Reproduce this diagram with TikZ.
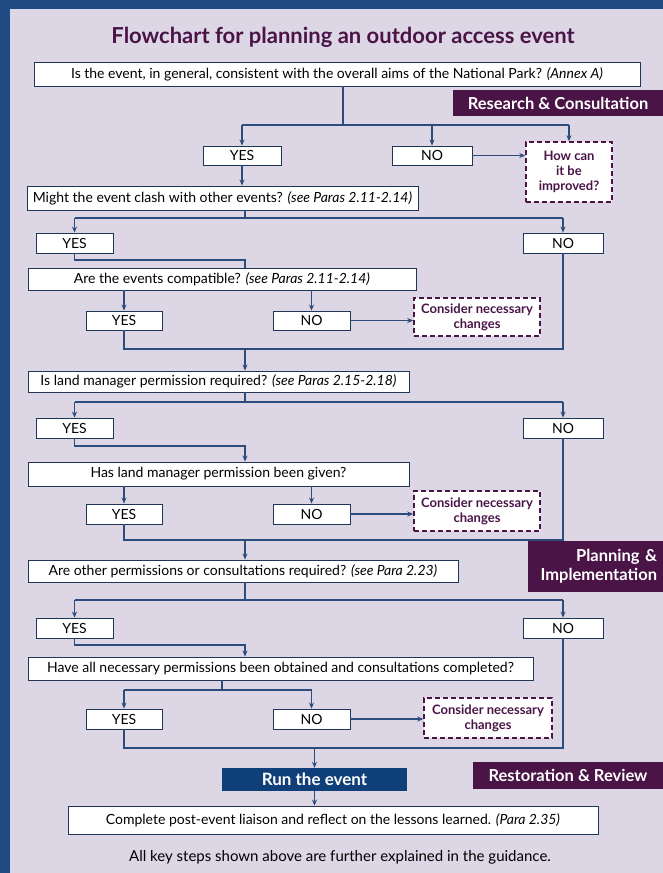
\documentclass[tikz,border=0pt]{standalone}
\usepackage{fontspec}
\setmainfont{Lato}
\usetikzlibrary{arrows.meta}
\definecolor{bgblue}{HTML}{1F4A82}
\definecolor{panel}{HTML}{DCD6E5}
\definecolor{darkpurple}{HTML}{4A1447}
\definecolor{lineblue}{HTML}{2C4C7C}
\definecolor{runblue}{HTML}{0F3F78}
\tikzset{
  ln/.style={draw=lineblue, line width=1.1pt},
  arr/.style={ln, -{Stealth[length=6pt,width=5pt]}},
  qbox/.style={draw=lineblue!70!black, fill=white, line width=0.9pt, inner sep=0pt, font=\fontsize{14}{16}\selectfont},
  ansbox/.style={qbox, minimum width=78pt, minimum height=19pt},
  dashbox/.style={draw=darkpurple, dashed, dash pattern=on 5pt off 3pt, line width=1.5pt, fill=white, text=darkpurple, align=center, inner sep=0pt, font=\bfseries\fontsize{13}{15}\selectfont},
  stagelabel/.style={fill=darkpurple, text=white, inner sep=0pt, font=\bfseries\fontsize{16.5}{19}\selectfont},
}
\begin{document}
\begin{tikzpicture}[x=1pt,y=-1pt]
\useasboundingbox (0,0) rectangle (663,873);
\fill[bgblue] (0,0) rectangle (663,873);
\fill[panel] (10,9) rectangle (663,873);

\node[text=darkpurple, font=\bfseries\fontsize{22}{25}\selectfont] (title) at (343,37) {Flowchart for planning an outdoor access event};

\node[qbox, minimum width=606pt, minimum height=24pt] (b1) at (337,74) {Is the event, in general, consistent with the overall aims of the National Park? \textit{(Annex A)}};
\node[stagelabel, minimum width=210pt, minimum height=26pt] (rc) at (558,103) {Research \& Consultation};

\node[ansbox] (y1) at (242,155.5) {YES};
\node[ansbox, minimum width=80pt] (n1) at (432,155.5) {NO};
\node[dashbox, minimum width=86pt, minimum height=60pt] (h1) at (569,172) {How can\\it be\\improved?};

\node[qbox, minimum width=391pt, minimum height=24pt] (b2) at (222.5,198) {Might the event clash with other events? \textit{(see Paras 2.11-2.14)}};
\node[ansbox, minimum width=77pt, minimum height=20pt] (y2) at (74.5,243) {YES};
\node[ansbox, minimum width=80pt, minimum height=20pt] (n2) at (563,243) {NO};

\node[qbox, minimum width=388pt, minimum height=22pt] (b3) at (222,279) {Are the events compatible? \textit{(see Paras 2.11-2.14)}};
\node[ansbox, minimum width=76pt] (y3) at (124,320.5) {YES};
\node[ansbox, minimum width=77pt] (n3) at (311.5,320.5) {NO};
\node[dashbox, minimum width=126pt, minimum height=38pt] (c3) at (477,317) {Consider necessary\\changes};

\node[qbox, minimum width=381pt, minimum height=21pt] (b4) at (218.5,381.5) {Is land manager permission required? \textit{(see Paras 2.15-2.18)}};
\node[ansbox, minimum width=77pt, minimum height=20pt] (y4) at (74.5,428) {YES};
\node[ansbox, minimum width=80pt, minimum height=20pt] (n4) at (563,428) {NO};

\node[qbox, minimum width=381pt, minimum height=24pt] (b5) at (218.5,474) {Has land manager permission been given?};
\node[ansbox, minimum width=76pt, minimum height=20pt] (y5) at (124,514) {YES};
\node[ansbox, minimum width=77pt, minimum height=20pt] (n5) at (311.5,514) {NO};
\node[dashbox, minimum width=126pt, minimum height=40pt] (c5) at (477,511) {Consider necessary\\changes};

\node[stagelabel, minimum width=135pt, minimum height=51pt, align=right, inner xsep=6pt, text width=123pt] (pi) at (595.5,566.5) {Planning \&\\Implementation};
\node[qbox, minimum width=430pt, minimum height=22pt] (b6) at (243,571) {Are other permissions or consultations required? \textit{(see Para 2.23)}};
\node[ansbox, minimum width=77pt, minimum height=20pt] (y6) at (74.5,628) {YES};
\node[ansbox, minimum width=80pt, minimum height=20pt] (n6) at (563,628) {NO};

\node[qbox, minimum width=505pt, minimum height=23pt] (b7) at (280.5,668.5) {Have all necessary permissions been obtained and consultations completed?};
\node[ansbox, minimum width=76pt, minimum height=20pt] (y7) at (124,719) {YES};
\node[ansbox, minimum width=77pt, minimum height=20pt] (n7) at (311.5,719) {NO};
\node[dashbox, minimum width=128pt, minimum height=40pt] (c7) at (488,718) {Consider necessary\\changes};

\node[fill=runblue, text=white, minimum width=185pt, minimum height=23pt, inner sep=0pt, font=\bfseries\fontsize{17}{19}\selectfont] (run) at (314.5,779.5) {Run the event};
\node[stagelabel, minimum width=190pt, minimum height=27pt] (rr) at (568,775.5) {Restoration \& Review};

\node[qbox, minimum width=530pt, minimum height=28pt] (fin) at (333,820) {Complete post-event liaison and reflect on the lessons learned. \textit{(Para 2.35)}};
\node[font=\fontsize{15}{17}\selectfont] (foot) at (340,857) {All key steps shown above are further explained in the guidance.};

% connectors
\coordinate (t1) at (343,125);
\draw[ln] (b1.south -| t1) -- (t1);
\draw[ln] (y1 |- t1) -- (h1 |- t1);
\draw[arr] (y1 |- t1) -- (y1.north);
\draw[arr] (n1 |- t1) -- (n1.north);
\draw[arr] (h1 |- t1) -- (h1.north);
\draw[arr] (n1.east) -- (n1.east -| h1.west);
\draw[arr] (y1.south) -- (y1.south |- b2.north);

\coordinate (t2) at (245,218);
\draw[ln] (b2.south -| t2) -- (t2);
\draw[ln] (y2 |- t2) -- (n2 |- t2);
\draw[arr] (y2 |- t2) -- (y2.north);
\draw[arr] (n2 |- t2) -- (n2.north);

\coordinate (t3) at (245,260);
\draw[ln] (y2.south) |- (t3) -- (t3 |- b3.north);
\draw[arr] (b3.south -| y3) -- (y3.north);
\draw[arr] (b3.south -| n3) -- (n3.north);
\draw[arr] (n3.east) -- (n3.east -| c3.west);

\coordinate (m3) at (245,349);
\draw[ln] (y3.south) |- (n2.south |- m3) -- (n2.south);
\draw[arr] (m3) -- (m3 |- b4.north);

\coordinate (t4) at (245,402);
\draw[ln] (b4.south -| t4) -- (t4);
\draw[ln] (y4 |- t4) -- (n4 |- t4);
\draw[arr] (y4 |- t4) -- (y4.north);
\draw[arr] (n4 |- t4) -- (n4.north);

\coordinate (t5) at (245,446);
\draw[arr] (y4.south) |- (t5) -- (t5 |- b5.north);
\draw[arr] (b5.south -| y5) -- (y5.north);
\draw[arr] (b5.south -| n5) -- (n5.north);
\draw[arr] (n5.east) -- (n5.east -| c5.west);

\coordinate (m5) at (245,540);
\draw[ln] (y5.south) |- (n4.south |- m5) -- (n4.south);
\draw[arr] (m5) -- (m5 |- b6.north);

\coordinate (t6) at (245,600);
\draw[ln] (b6.south -| t6) -- (t6);
\draw[ln] (y6 |- t6) -- (n6 |- t6);
\draw[arr] (y6 |- t6) -- (y6.north);
\draw[arr] (n6 |- t6) -- (n6.north);

\coordinate (t7) at (245,645);
\draw[arr] (y6.south) |- (t7) -- (t7 |- b7.north);

\coordinate (t8) at (222,690);
\draw[ln] (b7.south -| t8) -- (t8);
\draw[ln] (y7 |- t8) -- (n7 |- t8);
\draw[arr] (y7 |- t8) -- (y7.north);
\draw[arr] (n7 |- t8) -- (n7.north);
\draw[arr] (n7.east) -- (n7.east -| c7.west);

\coordinate (m7) at (314.5,748);
\draw[ln] (y7.south) |- (n6.south |- m7) -- (n6.south);
\draw[arr] (m7) -- (run.north);
\draw[arr] (run.south) -- (run.south |- fin.north);
\end{tikzpicture}
\end{document}
